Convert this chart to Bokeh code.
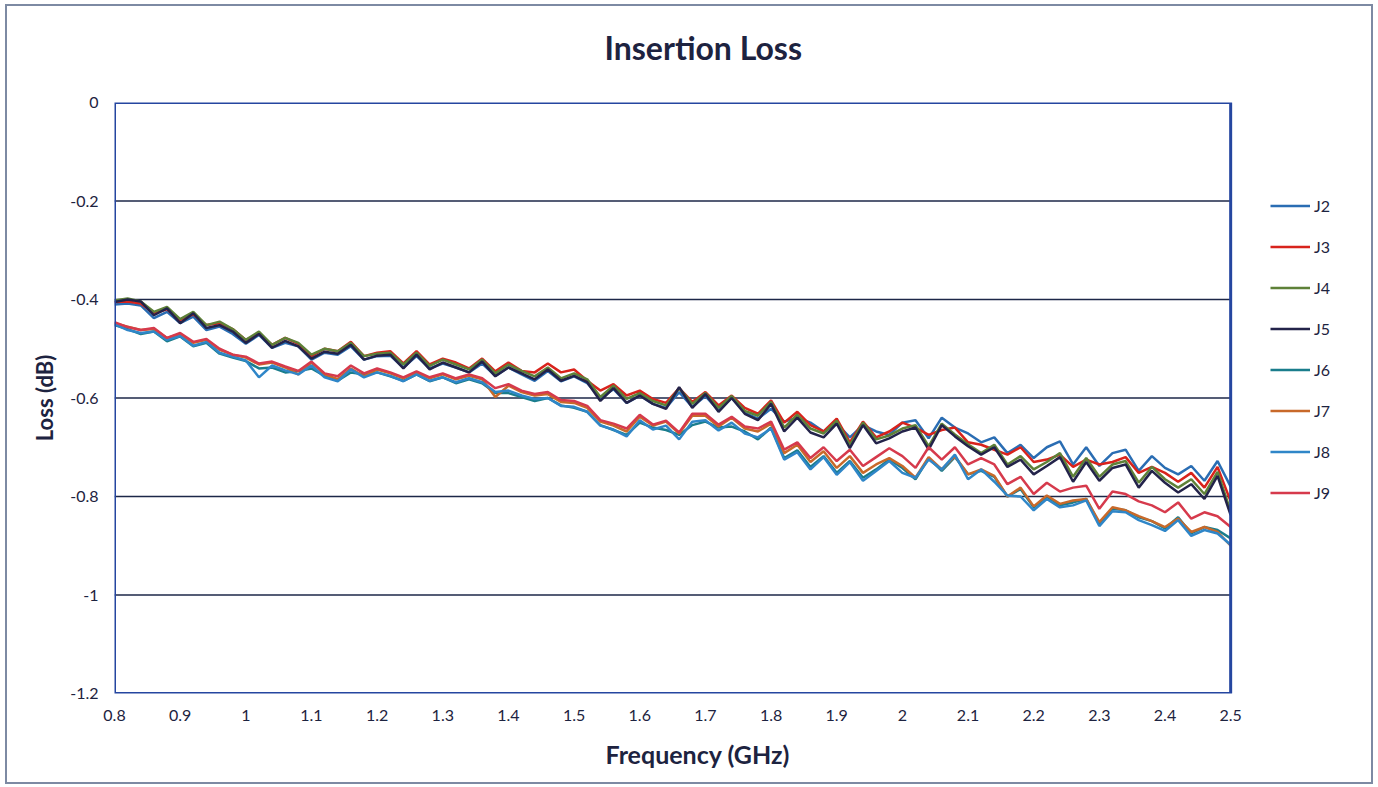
from bokeh.plotting import figure
from bokeh.models import (Range1d, FixedTicker, CustomJSTickFormatter, Legend,
                          LegendItem, BoxAnnotation, Title)
from bokeh.embed import file_html
from bokeh.resources import INLINE

freq = [0.80, 0.82, 0.84, 0.86, 0.88, 0.90, 0.92, 0.94, 0.96, 0.98,
        1.00, 1.02, 1.04, 1.06, 1.08, 1.10, 1.12, 1.14, 1.16, 1.18,
        1.20, 1.22, 1.24, 1.26, 1.28, 1.30, 1.32, 1.34, 1.36, 1.38,
        1.40, 1.42, 1.44, 1.46, 1.48, 1.50, 1.52, 1.54, 1.56, 1.58,
        1.60, 1.62, 1.64, 1.66, 1.68, 1.70, 1.72, 1.74, 1.76, 1.78,
        1.80, 1.82, 1.84, 1.86, 1.88, 1.90, 1.92, 1.94, 1.96, 1.98,
        2.00, 2.02, 2.04, 2.06, 2.08, 2.10, 2.12, 2.14, 2.16, 2.18,
        2.20, 2.22, 2.24, 2.26, 2.28, 2.30, 2.32, 2.34, 2.36, 2.38,
        2.40, 2.42, 2.44, 2.46, 2.48, 2.50]

j2 = [-0.410, -0.408, -0.412, -0.438, -0.425, -0.448, -0.435, -0.462, -0.455, -0.470,
      -0.490, -0.472, -0.498, -0.488, -0.495, -0.522, -0.508, -0.512, -0.495, -0.522,
      -0.515, -0.514, -0.538, -0.515, -0.540, -0.530, -0.538, -0.548, -0.530, -0.555,
      -0.538, -0.552, -0.565, -0.545, -0.566, -0.556, -0.570, -0.600, -0.582, -0.610,
      -0.595, -0.612, -0.620, -0.588, -0.618, -0.596, -0.625, -0.600, -0.630, -0.642,
      -0.622, -0.648, -0.640, -0.650, -0.668, -0.652, -0.680, -0.655, -0.668, -0.675,
      -0.650, -0.645, -0.682, -0.640, -0.660, -0.672, -0.690, -0.680, -0.712, -0.695,
      -0.722, -0.700, -0.688, -0.735, -0.700, -0.738, -0.712, -0.705, -0.748, -0.718,
      -0.742, -0.755, -0.738, -0.768, -0.728, -0.780]

j3 = [-0.405, -0.404, -0.408, -0.428, -0.420, -0.442, -0.430, -0.452, -0.448, -0.460,
      -0.482, -0.470, -0.492, -0.478, -0.490, -0.515, -0.500, -0.505, -0.486, -0.515,
      -0.508, -0.505, -0.530, -0.505, -0.532, -0.520, -0.528, -0.540, -0.520, -0.546,
      -0.528, -0.545, -0.548, -0.530, -0.548, -0.542, -0.565, -0.585, -0.572, -0.595,
      -0.585, -0.602, -0.610, -0.580, -0.608, -0.588, -0.615, -0.595, -0.620, -0.632,
      -0.605, -0.650, -0.628, -0.655, -0.668, -0.642, -0.690, -0.648, -0.680, -0.668,
      -0.650, -0.660, -0.675, -0.665, -0.660, -0.690, -0.695, -0.705, -0.715, -0.700,
      -0.730, -0.725, -0.715, -0.740, -0.725, -0.735, -0.730, -0.720, -0.752, -0.740,
      -0.752, -0.770, -0.752, -0.782, -0.740, -0.810]

j4 = [-0.402, -0.398, -0.404, -0.425, -0.415, -0.440, -0.425, -0.452, -0.445, -0.460,
      -0.482, -0.465, -0.492, -0.478, -0.488, -0.512, -0.500, -0.505, -0.488, -0.515,
      -0.510, -0.508, -0.532, -0.508, -0.535, -0.522, -0.532, -0.542, -0.522, -0.550,
      -0.532, -0.545, -0.556, -0.538, -0.560, -0.550, -0.562, -0.598, -0.575, -0.602,
      -0.590, -0.606, -0.615, -0.580, -0.612, -0.590, -0.620, -0.596, -0.626, -0.636,
      -0.608, -0.660, -0.634, -0.662, -0.672, -0.646, -0.695, -0.650, -0.684, -0.676,
      -0.662, -0.655, -0.698, -0.652, -0.674, -0.694, -0.712, -0.695, -0.735, -0.718,
      -0.745, -0.730, -0.712, -0.760, -0.722, -0.760, -0.735, -0.728, -0.772, -0.740,
      -0.765, -0.782, -0.765, -0.795, -0.750, -0.830]

j5 = [-0.405, -0.400, -0.404, -0.432, -0.418, -0.448, -0.428, -0.458, -0.452, -0.465,
      -0.488, -0.470, -0.498, -0.484, -0.495, -0.520, -0.506, -0.510, -0.492, -0.522,
      -0.514, -0.512, -0.540, -0.512, -0.542, -0.528, -0.538, -0.548, -0.526, -0.556,
      -0.538, -0.550, -0.562, -0.542, -0.565, -0.555, -0.568, -0.606, -0.580, -0.610,
      -0.595, -0.612, -0.622, -0.578, -0.620, -0.592, -0.628, -0.600, -0.632, -0.645,
      -0.612, -0.668, -0.640, -0.670, -0.680, -0.652, -0.702, -0.655, -0.692, -0.682,
      -0.668, -0.660, -0.705, -0.655, -0.678, -0.698, -0.715, -0.700, -0.740, -0.725,
      -0.755, -0.738, -0.720, -0.770, -0.730, -0.768, -0.742, -0.735, -0.782, -0.748,
      -0.772, -0.792, -0.775, -0.805, -0.758, -0.838]

j6 = [-0.452, -0.460, -0.470, -0.465, -0.485, -0.475, -0.495, -0.488, -0.510, -0.518,
      -0.525, -0.540, -0.538, -0.548, -0.545, -0.540, -0.555, -0.565, -0.548, -0.552,
      -0.548, -0.556, -0.565, -0.552, -0.566, -0.558, -0.570, -0.562, -0.570, -0.590,
      -0.590, -0.598, -0.606, -0.600, -0.615, -0.620, -0.628, -0.655, -0.665, -0.675,
      -0.650, -0.660, -0.665, -0.675, -0.655, -0.648, -0.660, -0.658, -0.668, -0.684,
      -0.660, -0.722, -0.706, -0.740, -0.718, -0.752, -0.728, -0.762, -0.745, -0.725,
      -0.742, -0.765, -0.722, -0.748, -0.720, -0.755, -0.748, -0.760, -0.800, -0.785,
      -0.822, -0.800, -0.818, -0.812, -0.805, -0.855, -0.825, -0.828, -0.842, -0.850,
      -0.865, -0.842, -0.875, -0.862, -0.868, -0.885]

j7 = [-0.448, -0.455, -0.462, -0.460, -0.478, -0.470, -0.488, -0.482, -0.502, -0.512,
      -0.518, -0.532, -0.528, -0.538, -0.552, -0.528, -0.552, -0.562, -0.540, -0.556,
      -0.542, -0.550, -0.560, -0.548, -0.560, -0.552, -0.562, -0.555, -0.562, -0.598,
      -0.575, -0.588, -0.595, -0.592, -0.608, -0.610, -0.620, -0.648, -0.656, -0.668,
      -0.638, -0.656, -0.648, -0.672, -0.636, -0.636, -0.658, -0.640, -0.662, -0.668,
      -0.652, -0.712, -0.695, -0.730, -0.708, -0.742, -0.718, -0.752, -0.735, -0.722,
      -0.738, -0.762, -0.720, -0.745, -0.718, -0.755, -0.745, -0.758, -0.800, -0.782,
      -0.820, -0.798, -0.815, -0.808, -0.805, -0.852, -0.822, -0.828, -0.840, -0.850,
      -0.862, -0.845, -0.872, -0.862, -0.872, -0.900]

j8 = [-0.450, -0.462, -0.468, -0.465, -0.482, -0.474, -0.494, -0.486, -0.508, -0.516,
      -0.524, -0.558, -0.534, -0.544, -0.552, -0.534, -0.558, -0.566, -0.542, -0.558,
      -0.548, -0.555, -0.566, -0.552, -0.565, -0.558, -0.568, -0.560, -0.568, -0.588,
      -0.585, -0.595, -0.602, -0.600, -0.616, -0.618, -0.628, -0.656, -0.664, -0.678,
      -0.645, -0.664, -0.656, -0.684, -0.648, -0.645, -0.666, -0.650, -0.672, -0.680,
      -0.662, -0.725, -0.710, -0.745, -0.720, -0.756, -0.730, -0.768, -0.748, -0.728,
      -0.752, -0.762, -0.725, -0.745, -0.715, -0.765, -0.745, -0.770, -0.798, -0.800,
      -0.828, -0.805, -0.822, -0.818, -0.808, -0.860, -0.830, -0.832, -0.848, -0.858,
      -0.870, -0.848, -0.880, -0.868, -0.875, -0.898]

j9 = [-0.446, -0.456, -0.462, -0.458, -0.478, -0.468, -0.486, -0.480, -0.500, -0.512,
      -0.516, -0.530, -0.526, -0.536, -0.545, -0.526, -0.550, -0.556, -0.534, -0.550,
      -0.540, -0.548, -0.558, -0.546, -0.558, -0.550, -0.560, -0.552, -0.560, -0.580,
      -0.572, -0.585, -0.592, -0.588, -0.604, -0.606, -0.616, -0.645, -0.652, -0.662,
      -0.634, -0.654, -0.646, -0.670, -0.632, -0.632, -0.654, -0.638, -0.658, -0.662,
      -0.648, -0.705, -0.690, -0.722, -0.700, -0.728, -0.705, -0.738, -0.720, -0.702,
      -0.718, -0.742, -0.700, -0.725, -0.700, -0.735, -0.722, -0.735, -0.775, -0.760,
      -0.795, -0.772, -0.790, -0.782, -0.778, -0.825, -0.790, -0.795, -0.810, -0.818,
      -0.832, -0.812, -0.845, -0.832, -0.840, -0.862]

series_names = ["J2", "J3", "J4", "J5", "J6", "J7", "J8", "J9"]
series_values = [j2, j3, j4, j5, j6, j7, j8, j9]
series_colors = ["#2a6db3", "#d8231c", "#5e8138", "#23234a",
                 "#1a7d8c", "#c8692a", "#2f86c8", "#d63a4c"]

x_ticks = [0.8, 0.9, 1.0, 1.1, 1.2, 1.3, 1.4, 1.5, 1.6, 1.7, 1.8,
           1.9, 2.0, 2.1, 2.2, 2.3, 2.4, 2.5]
y_ticks = [0.0, -0.2, -0.4, -0.6, -0.8, -1.0, -1.2]
grid_ticks = [-0.2, -0.4, -0.6, -0.8, -1.0]

FONT = "Lato"
TEXT_COL = "#1d2340"
FRAME_COL = "#2546a0"

x_lo, x_hi = x_ticks[0], x_ticks[-1]
y_lo, y_hi = y_ticks[-1], y_ticks[0]
# the visible x range is extended to the right so the legend can sit beside the plot box
x_view_end = 2.681

p = figure(width=1368, height=780, output_backend="svg", toolbar_location=None,
           x_range=Range1d(x_lo, x_view_end), y_range=Range1d(y_lo, y_hi),
           min_border_left=107, min_border_right=26,
           min_border_top=96, min_border_bottom=93)
p.styles = {"border": "2px solid #7d8aa3", "margin-left": "5px", "margin-top": "4px"}

# an empty spacer title keeps the real title a little higher above the plot box
p.add_layout(Title(text=" ", text_font_size="1px", standoff=28), "above")

p.title.text = "Insertion Loss"
p.title.align = "left"
p.title.offset = 490
p.title.vertical_align = "bottom"
p.title.standoff = 10
p.title.text_font = FONT
p.title.text_font_size = "32px"
p.title.text_font_style = "bold"
p.title.text_color = TEXT_COL

p.outline_line_color = None
p.xgrid.visible = False
p.ygrid.visible = False

# horizontal grid lines limited to the plot box
p.segment(x0=[x_lo] * len(grid_ticks), x1=[x_hi] * len(grid_ticks),
          y0=grid_ticks, y1=grid_ticks, line_color="#1c2748", line_width=1.6)

fmt = "return String(Math.round(tick*10)/10);"
for ax, ticks in ((p.xaxis, x_ticks), (p.yaxis, y_ticks)):
    ax.ticker = FixedTicker(ticks=ticks)
    ax.formatter = CustomJSTickFormatter(code=fmt)
    ax.axis_line_color = None
    ax.major_tick_line_color = None
    ax.minor_tick_line_color = None
    ax.major_tick_out = 0
    ax.major_tick_in = 0
    ax.major_label_text_font = FONT
    ax.major_label_text_font_size = "16px"
    ax.major_label_text_color = TEXT_COL
    ax.axis_label_text_font = FONT
    ax.axis_label_text_font_style = "bold"
    ax.axis_label_text_color = TEXT_COL

p.xaxis.major_label_standoff = 16
p.yaxis.axis_label = "Loss (dB)"
p.yaxis.axis_label_text_font_size = "22px"
p.yaxis.major_label_standoff = 16
p.yaxis.axis_label_standoff = 9

# x-axis title placed as a title below the axis so it sits where the reference has it
p.add_layout(Title(text="Frequency (GHz)", align="left", offset=491,
                   vertical_align="bottom", standoff=26,
                   text_font=FONT, text_font_size="25px", text_font_style="bold",
                   text_color=TEXT_COL), "below")

items = []
for name, ys, col in zip(series_names, series_values, series_colors):
    r = p.line(freq, ys, line_color=col, line_width=2.5)
    items.append(LegendItem(label=name, renderers=[r]))

p.add_layout(BoxAnnotation(left=x_lo, right=x_hi, bottom=y_lo, top=y_hi,
                           fill_alpha=0, line_color=FRAME_COL, line_alpha=1.0,
                           line_width=3))

legend = Legend(items=items, location=(1156, 190), glyph_width=40, glyph_height=21,
                label_height=21, spacing=20, padding=0, margin=0, label_standoff=4,
                border_line_color=None, background_fill_alpha=0,
                label_text_font=FONT, label_text_font_size="16px",
                label_text_color=TEXT_COL)
p.add_layout(legend, "center")

open("out.html", "w").write(file_html(p, INLINE))
